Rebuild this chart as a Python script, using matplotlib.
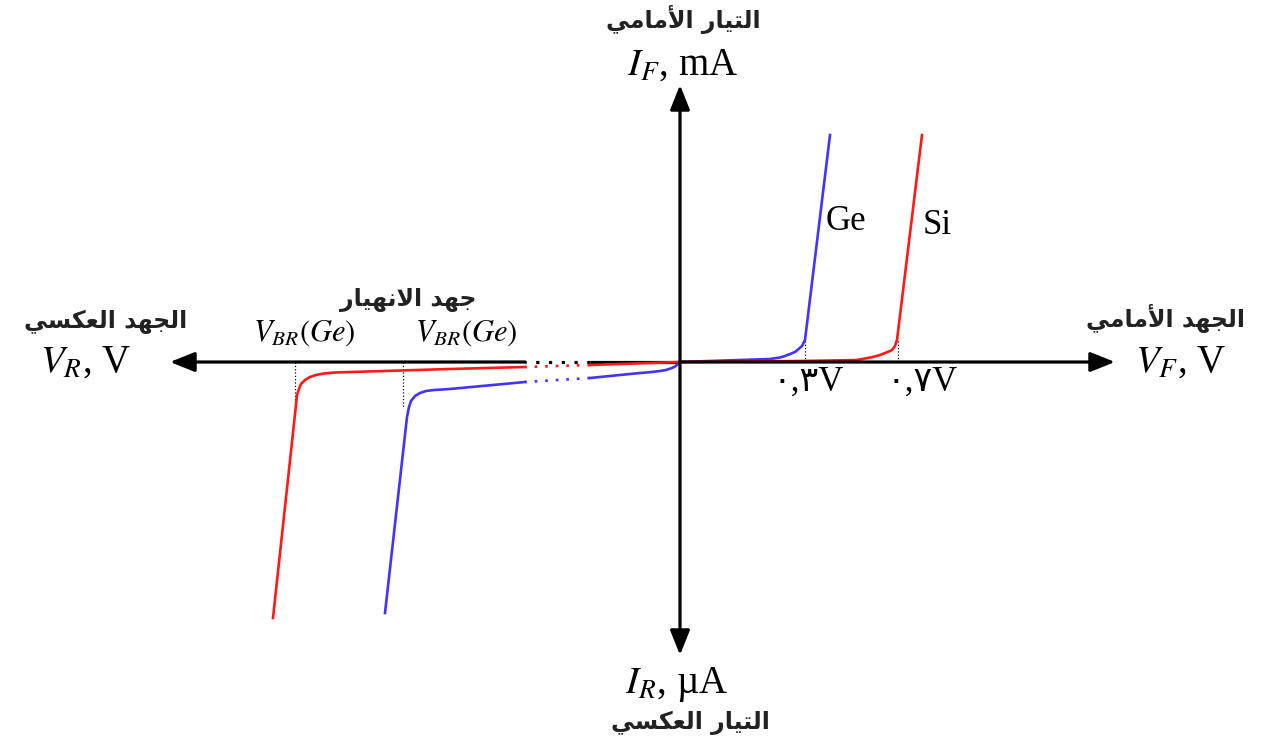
import matplotlib
matplotlib.use('Agg')
import matplotlib.pyplot as plt

plt.rcParams['font.family'] = ['Liberation Serif', 'DejaVu Sans']
plt.rcParams['mathtext.fontset'] = 'stix'

RED = '#ff1a1a'
BLUE = '#4433ff'
CURVE_LW = 1.9
AXIS_LW = 2.3
GAP_STYLE = (0, (1, 3))
ARABIC_FONT = 'DejaVu Sans'
AR_SIZE = 17
BIG = 28

# schematic units: x = voltage, y = current (origin at 0,0)
# forward bias
ge_fwd_v = [0, 60, 90, 100, 105, 110, 115, 118, 122, 125, 150]
ge_fwd_i = [0, 2, 3, 4.5, 6, 8, 10, 12.5, 16, 22, 227]
si_fwd_v = [0, 120, 177, 193, 200, 205, 210, 212, 215, 217, 242]
si_fwd_i = [0, 1, 2, 5, 7, 9, 11, 12, 16, 22, 227]

# reverse bias, near part (before the axis break)
si_rev_v1 = [0, -90]
si_rev_i1 = [0, -3]
ge_rev_v1 = [0, -2, -5, -8, -14, -20, -30, -40, -80, -90]
ge_rev_i1 = [0, -2, -4.5, -6, -8, -9, -10.2, -11, -15, -16]
# reverse bias, far part (after the axis break, breakdown)
si_rev_v2 = [-155, -230, -345, -356, -364, -370, -375, -379, -381, -383, -384, -407]
si_rev_i2 = [-5, -7, -10.5, -11.5, -13, -15, -18, -22, -27, -33, -43, -256]
ge_rev_v2 = [-155, -230, -246, -254, -260, -265, -269, -271, -273, -295]
ge_rev_i2 = [-20, -27, -28, -29, -31, -34, -39, -45, -55, -251]

axis_break = [-90, -155]
knee_v_fwd = [125, 218]
knee_h_fwd = 22
knee_v_rev = [-385, -277]
knee_h_rev = -46

x_pos_end = 435
x_neg_end = -510
y_pos_end = 277
y_neg_end = -293

fwd_tick_labels = ['٠,٣V', '٠,٧V']


FORMS = {
    'ا': ('\ufe8d', '\ufe8e', None, None),
    'أ': ('\ufe83', '\ufe84', None, None),
    'ر': ('\ufead', '\ufeae', None, None),
    'د': ('\ufea9', '\ufeaa', None, None),
    'ل': ('\ufedd', '\ufede', '\ufedf', '\ufee0'),
    'ت': ('\ufe95', '\ufe96', '\ufe97', '\ufe98'),
    'ي': ('\ufef1', '\ufef2', '\ufef3', '\ufef4'),
    'م': ('\ufee1', '\ufee2', '\ufee3', '\ufee4'),
    'ع': ('\ufec9', '\ufeca', '\ufecb', '\ufecc'),
    'ك': ('\ufed9', '\ufeda', '\ufedb', '\ufedc'),
    'س': ('\ufeb1', '\ufeb2', '\ufeb3', '\ufeb4'),
    'ج': ('\ufe9d', '\ufe9e', '\ufe9f', '\ufea0'),
    'ه': ('\ufee9', '\ufeea', '\ufeeb', '\ufeec'),
    'ن': ('\ufee5', '\ufee6', '\ufee7', '\ufee8'),
}
LAMALEF = {'ا': ('\ufefb', '\ufefc'), 'أ': ('\ufef7', '\ufef8')}


def shape(text):
    # minimal arabic shaping + reversal, matplotlib has no bidi
    res = []
    prev_joins = False
    i = 0
    n = len(text)
    while i < n:
        c = text[i]
        if c not in FORMS:
            res.append(c)
            prev_joins = False
            i += 1
            continue
        if c == 'ل' and i + 1 < n and text[i + 1] in LAMALEF:
            iso, fin = LAMALEF[text[i + 1]]
            res.append(fin if prev_joins else iso)
            prev_joins = False
            i += 2
            continue
        nxt = text[i + 1] if i + 1 < n else None
        iso, fin, ini, med = FORMS[c]
        can_next = ini is not None and nxt in FORMS
        if prev_joins and can_next:
            g = med
        elif prev_joins:
            g = fin
        elif can_next:
            g = ini
        else:
            g = iso
        res.append(g)
        prev_joins = can_next
        i += 1
    return ''.join(reversed(res))


def arrow(ax, x0, y0, x1, y1):
    ax.annotate('', xy=(x1, y1), xytext=(x0, y0),
                arrowprops=dict(arrowstyle='-|>,head_length=0.75,head_width=0.3',
                                lw=AXIS_LW, color='black',
                                mutation_scale=20, shrinkA=0, shrinkB=0))


def ar(ax, x, y, s, size=AR_SIZE):
    ax.text(x, y, shape(s), ha='center', va='center',
            fontsize=size, family=ARABIC_FONT, weight='bold', color='#222222')


fig = plt.figure(figsize=(12.67, 7.46), dpi=100)
ax = fig.add_axes([0, 0, 1, 1])
ax.set_xlim(-680, 587)
ax.set_ylim(-384, 362)
ax.axis('off')

# axes
arrow(ax, 0, 0, x_pos_end, 0)
arrow(ax, 0, 0, 0, y_pos_end)
arrow(ax, 0, 0, 0, y_neg_end)
ax.plot([0, axis_break[0]], [0, 0], color='black', lw=AXIS_LW, solid_capstyle='butt')
ax.plot(axis_break, [0, 0], color='black', lw=AXIS_LW, ls=GAP_STYLE)
arrow(ax, axis_break[1], 0, x_neg_end, 0)

# knee markers
for v in knee_v_fwd:
    ax.plot([v, v], [0, knee_h_fwd], color='black', lw=0.9, ls=':')
for v in knee_v_rev:
    ax.plot([v, v], [0, knee_h_rev], color='black', lw=0.9, ls=':')

# curves
ax.plot(ge_fwd_v, ge_fwd_i, color=BLUE, lw=CURVE_LW)
ax.plot(si_fwd_v, si_fwd_i, color=RED, lw=CURVE_LW)
ax.plot(si_rev_v1, si_rev_i1, color=RED, lw=CURVE_LW)
ax.plot(ge_rev_v1, ge_rev_i1, color=BLUE, lw=CURVE_LW)
ax.plot([si_rev_v1[-1], si_rev_v2[0]], [si_rev_i1[-1], si_rev_i2[0]],
        color=RED, lw=CURVE_LW, ls=GAP_STYLE)
ax.plot([ge_rev_v1[-1], ge_rev_v2[0]], [ge_rev_i1[-1], ge_rev_i2[0]],
        color=BLUE, lw=CURVE_LW, ls=GAP_STYLE)
ax.plot(si_rev_v2, si_rev_i2, color=RED, lw=CURVE_LW)
ax.plot(ge_rev_v2, ge_rev_i2, color=BLUE, lw=CURVE_LW)

# labels
ar(ax, 3, 342, 'التيار الأمامي')
ax.text(3, 297, r'$I_F$, mA', ha='center', va='center', fontsize=BIG)
ax.text(-3, -322, r'$I_R$, µA', ha='center', va='center', fontsize=BIG)
ar(ax, 10, -361, 'التيار العكسي')
ar(ax, -574, 40, 'الجهد العكسي')
ax.text(-594, 0, r'$V_R$, V', ha='center', va='center', fontsize=BIG)
ar(ax, -272, 62, 'جهد الانهيار')
ax.text(-376, 29, r'$V_{BR}(Ge)$', ha='center', va='center', fontsize=22)
ax.text(-214, 29, r'$V_{BR}(Ge)$', ha='center', va='center', fontsize=22)
ar(ax, 486, 44, 'الجهد الأمامي')
ax.text(501, 0, r'$V_F$, V', ha='center', va='center', fontsize=BIG)
ax.text(166, 140, 'Ge', ha='center', va='center', fontsize=25)
ax.text(257, 137, 'Si', ha='center', va='center', fontsize=25)
for v, lab in zip([128, 242], fwd_tick_labels):
    ax.text(v, -20, lab, ha='center', va='center', fontsize=25)

fig.savefig('out.png', dpi=100)
